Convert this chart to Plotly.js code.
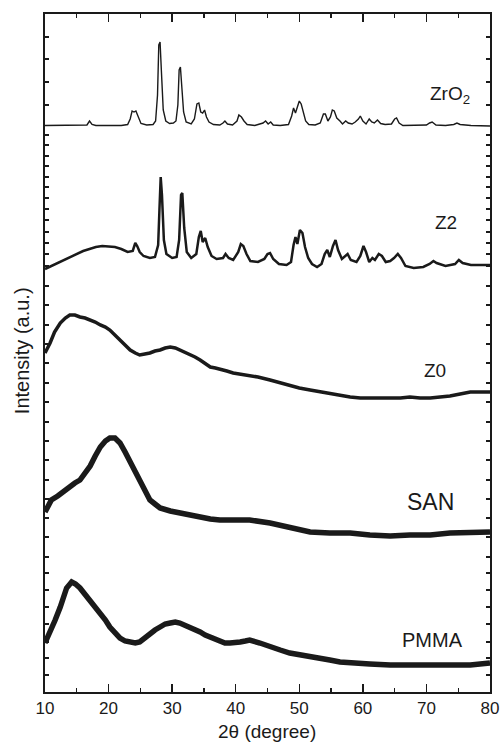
<!DOCTYPE html>
<html>
<head>
<meta charset="utf-8">
<script src="https://cdn.plot.ly/plotly-3.0.1.min.js"></script>
<style>html,body{margin:0;padding:0;background:#fff;}#chart{width:500px;height:747px;}</style>
</head>
<body>
<div id="chart"></div>
<script>
// 2θ positions (degree) and intensities (a.u., curves already stacked as in the figure)
const zro2X = [10,14,16.6,17.0,17.4,18,22,23.0,23.4,23.7,24.0,24.3,24.7,25.1,26,27,27.4,27.7,27.9,28.1,28.3,28.6,29.0,29.6,30.2,30.6,30.9,31.1,31.3,31.5,31.8,32.2,33,33.5,33.9,34.2,34.5,34.8,35.1,35.4,35.8,36.5,37.5,38.0,38.3,38.7,39.5,40.2,40.5,40.9,41.3,41.8,43,44.3,44.7,45.1,45.5,45.9,47,48.3,48.8,49.1,49.4,49.7,50.0,50.3,50.6,51.0,51.5,52.5,53.3,53.8,54.1,54.5,54.9,55.2,55.5,55.9,56.4,56.8,57.3,57.7,58.3,58.8,59.3,59.6,60.0,60.5,61.0,61.4,61.8,62.3,62.8,63.5,64.5,65.0,65.3,65.7,66.3,68,70,70.5,70.9,71.5,73,74.3,74.8,75.3,77,80];
const zro2Y = [566.5,566.5,567,571,567.5,566.5,566.5,567.5,573,581,580,581,575,568.5,567,567.5,571,597,647,650,622,582,571,568.5,569,571,587,622,625,607,580,570,568,573,588,589,580,579,582,575,570,567.5,567,569,571,568,567,571,577,575,571,567.5,566.5,569,571,568,570,567,566.5,567.5,576,584,579,585,591,588,580,571,567.5,567,569,578,578,571,575,582,581,574,571,568,571,569,568,570,573,576,571,568,573,570,569,572,568.5,567.5,568,573,574,569,566.5,566.5,567,569,570,567,566.5,567.5,569,567.5,566.5,566];

const z2X = [10,11,12,13,14,15,16,17,18,19,20,21,22,23,23.8,24.2,24.5,24.9,25.5,26.5,27.3,27.8,28.0,28.2,28.4,28.7,29.1,30,30.7,31.1,31.4,31.6,31.9,32.3,33,33.8,34.2,34.5,34.8,35.2,35.6,36.2,37,38.0,38.4,38.9,39.6,40.4,40.8,41.2,41.7,42.3,43.5,44.5,45.0,45.4,45.9,46.8,48,48.7,49.1,49.4,49.7,50.1,50.5,50.9,51.4,52,52.8,53.5,54.0,54.4,54.8,55.3,55.7,56.1,56.7,57.2,57.6,58.1,59.0,59.6,60.1,60.5,61.0,61.5,61.9,62.5,63.0,63.6,64.3,64.9,65.5,66.0,66.7,68,69.5,70.5,71.1,71.6,73,74.5,75.1,75.7,77,78.5,80];
const z2Y = [423,426,429,432,435,438,441,443,445,446,445.5,445,443,440,441,449,446,440,436,434,435,447,482,515,497,452,438,434,435,452,497,499,464,440,434,438,455,461,450,454,445,436,433,434,438,434,432,440,448,446,438,431,430,433,438,439,433,428,427,430,447,455,448,462,459,445,434,428,425,428,438,442,435,446,452,442,433,436,438,432,430,436,446,440,430,434,432,438,436,430,431,434,438,434,426,424,425,428,431,429,426,428,432,429,427,427,427];

const z0X = [10,10.8,11.5,12.4,13.2,13.9,14.7,15.5,16.3,17.1,17.9,18.7,19.5,20.2,21.0,21.8,22.6,23.4,24.2,24.9,25.7,26.5,27.3,28.1,28.9,29.7,30.5,31.2,32.0,32.8,33.6,34.4,35.2,36.0,36.8,37.5,38.6,39.6,40.7,41.8,43.5,45.4,47,48.5,50,51.7,53.3,54.8,56.4,58.0,59.6,61.1,62.7,64.3,65.9,67.4,69,70.6,72.2,73.7,75.3,76.9,78.5,80];
const z0Y = [339,349,360,369,374,377,377,375,374,372,370,367,365,362,357,352,347,342,339,337,338,339,341,342,344,345,344,342,340,337,335,332,328,325,324,323,321,319,318,317,315,312,309,307,304,302,300,299,297,295,294,294,294,294,294,295,294,294,295,296,298,300,300,300];

const sanX = [10,10.5,11,12,13,13.9,14.7,15.5,16.3,17.1,17.9,18.7,19.5,20.2,21.0,21.8,22.6,23.4,24.2,24.9,25.7,26.5,27.3,28.1,29.7,31.2,32.8,34.4,36,37.5,40.7,42.2,45.4,48.5,51.7,54.8,58.0,61.1,64.3,67.4,70.6,73.7,76.9,80];
const sanY = [180,187,192,196,201,206,209,212,218,226,236,245,251,254,254,249,240,230,220,210,200,192,188,184,181,179,176,174,173,172,172,172,169,164,160,159,159,157,156,157,157,159,159,160];

const pmmaX = [10,10.8,11.6,12.4,13.4,14.2,14.8,15.5,16.3,17.1,17.9,18.7,19.5,20.2,21.0,21.8,22.6,23.4,24.2,24.9,25.7,26.5,27.3,28.1,28.9,29.7,30.5,31.2,32.0,32.8,33.6,34.4,35.2,36.0,36.8,37.5,38.3,39.1,39.9,40.7,41.5,42.2,43.8,45.4,47,48.5,50,51.7,53.3,54.8,56.4,58.0,61.1,64.3,67.4,70.6,73.7,76.9,80];
const pmmaY = [49,59,72,85,104,110,108,104,98,92,85,79,72,65,59,54,51,50,49,50,54,59,62,65,68,69,70,69,67,65,62,60,57,55,52,50,49,49,49,50,51,52,49,45,42,39,37,35,33,32,30,29,28,27,27,26,27,27,29];

const seriesNames = ['ZrO<sub>2</sub>','Z2','Z0','SAN','PMMA'];
const xTitle = '2θ (degree)';
const yTitle = 'Intensity (a.u.)';
const xTickVals = [10,20,30,40,50,60,70,80];
const xTickText = ['10','20','30','40','50','60','70','80'];
const yTickVals = [655,633,610,587,557,547,536,526,515,505,494,483,472,460,449,438,426,406,387,367,348,329,309,290,270,251,232,212,193,174,155,135,119,102,85,68,50,34,17];

const FONT = 'Liberation Sans, Arial, sans-serif';
const INK = '#1a1a1a';

function tr(x, y, w) {
  return {x: x, y: y, type: 'scatter', mode: 'lines', line: {color: INK, width: w}, hoverinfo: 'skip', showlegend: false};
}
const data = [
  tr(zro2X, zro2Y, 1.4),
  tr(z2X, z2Y, 2.5),
  tr(z0X, z0Y, 3.5),
  tr(sanX, sanY, 5.5),
  tr(pmmaX, pmmaY, 5.5)
];

function lab(text, x, y, size, anchor) {
  return {text: text, x: x, y: y, xref: 'x', yref: 'y', showarrow: false, xanchor: anchor || 'center', yanchor: 'middle', font: {family: FONT, size: size, color: INK}};
}

const layout = {
  width: 500, height: 747,
  margin: {l: 45, r: 10, t: 14, b: 55},
  paper_bgcolor: '#fff', plot_bgcolor: '#fff',
  font: {family: FONT, color: INK},
  xaxis: {
    range: [10, 80], tickvals: xTickVals, ticktext: xTickText,
    ticks: 'inside', ticklen: 8, tickwidth: 1.3, tickcolor: INK,
    minor: {tickvals: [15,25,35,45,55,65,75], ticks: 'inside', ticklen: 4, tickwidth: 1.3, tickcolor: INK},
    showline: true, linewidth: 1.6, linecolor: INK, mirror: 'ticks',
    showgrid: false, zeroline: false,
    tickfont: {family: FONT, size: 17, color: INK}
  },
  yaxis: {
    range: [0, 678], tickvals: yTickVals, showticklabels: false,
    ticks: 'inside', ticklen: 4, tickwidth: 1.1, tickcolor: INK,
    showline: true, linewidth: 1.6, linecolor: INK, mirror: 'ticks',
    showgrid: false, zeroline: false
  },
  annotations: [
    lab(seriesNames[0], 70.2, 597, 19, 'left'),
    lab(seriesNames[1], 73.1, 470, 19),
    lab(seriesNames[2], 71.3, 322, 19),
    lab(seriesNames[3], 70.7, 190, 23),
    lab(seriesNames[4], 71.0, 52, 20),
    {text: xTitle, xref: 'paper', yref: 'paper', x: 0.498, y: -0.058, xanchor: 'center', yanchor: 'middle', showarrow: false, font: {family: FONT, size: 19, color: INK}},
    {text: yTitle, xref: 'paper', yref: 'paper', x: -0.052, y: 0.504, xanchor: 'center', yanchor: 'middle', textangle: -90, showarrow: false, font: {family: FONT, size: 20, color: INK}}
  ]
};

Plotly.newPlot('chart', data, layout, {displayModeBar: false, staticPlot: true});
</script>
</body>
</html>
